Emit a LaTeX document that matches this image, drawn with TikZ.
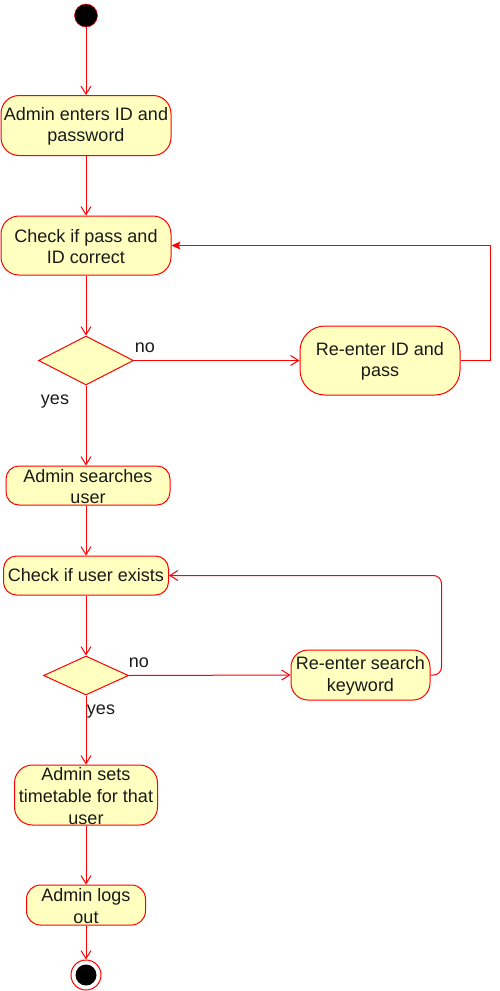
\documentclass[tikz,border=0pt]{standalone}
\usepackage{fontspec}
\setmainfont{Liberation Sans}
\usetikzlibrary{arrows.meta,shapes.geometric}
\definecolor{umlfill}{HTML}{FFFFC0}
\definecolor{umlline}{HTML}{FF0000}
\definecolor{umltext}{HTML}{1A1A1A}

\begin{document}
\begin{tikzpicture}[x=1pt,y=-1pt,
        every node/.style={font=\fontsize{18}{21.6}\selectfont, text=umltext},
        action/.style={draw=umlline, fill=umlfill, line width=1pt, rounded corners=15pt,
                       align=center, inner sep=0pt},
        choice/.style={diamond, draw=umlline, fill=umlfill, line width=1pt, inner sep=0pt,
                       aspect=1.9},
        flow/.style={draw=umlline, line width=1pt, -{Straight Barb[length=8pt,width=10pt]}},
        back/.style={draw=umlline, line width=1pt, -{Stealth[length=9pt,width=8pt,inset=2pt]}}]
    \useasboundingbox (0,0) rectangle (499,991);

    \begin{scope}
        \node (start) [circle, fill=black, draw=umlline, line width=0.5pt, minimum size=23pt, inner sep=0pt] at (86, 15.5) {};
        \node (enter) [action, minimum width=170pt, minimum height=60pt, rounded corners=18pt] at (86, 125.5) {\strut Admin enters ID and\\password};
        \node (check1) [action, minimum width=170pt, minimum height=59pt, rounded corners=18pt] at (86, 245.5) {\strut Check if pass and\\ID correct};
        \node (dec1) [choice, minimum width=95pt, minimum height=49pt] at (86, 360.5) {};
        \node (redo1) [action, minimum width=160pt, minimum height=69pt, rounded corners=25pt] at (380, 360.5) {\strut Re-enter ID and\\pass};
        \node (search) [action, minimum width=164pt, minimum height=39pt, rounded corners=13pt] at (88, 485.5) {\strut Admin searches\\user};
        \node (check2) [action, minimum width=165pt, minimum height=39pt, rounded corners=13pt] at (86, 575.5) {Check if user exists};
        \node (dec2) [choice, minimum width=85pt, minimum height=39pt, aspect=2.2] at (86, 675.5) {};
        \node (redo2) [action, minimum width=139pt, minimum height=50pt, rounded corners=17pt] at (360.5, 675) {\strut Re-enter search\\keyword};
        \node (sets) [action, minimum width=143pt, minimum height=60pt, rounded corners=18pt] at (86, 795) {\strut Admin sets\\timetable for that\\user};
        \node (logout) [action, minimum width=119pt, minimum height=40pt, rounded corners=14pt] at (86, 905) {\strut Admin logs\\out};
        \node (stop) [circle, draw=umlline, fill=white, line width=1pt, minimum size=30pt, inner sep=0pt] at (86, 975) {};
        \node (stopdot) [circle, fill=black, minimum size=21pt, inner sep=0pt] at (stop.center) {};
    \end{scope}

    \begin{scope}
        \node (no1) at (145, 348) {no};
        \node (yes1) at (55, 402) {yes};
        \node (no2) at (139, 663) {no};
        \node (yes2) at (101, 712) {yes};
    \end{scope}

    \path [flow] (start) -- (start.south |- enter.north);
    \path [flow] (enter.south) -- (enter.south |- check1.north);
    \path [flow] (check1.south) -- (check1.south |- dec1.north);
    \path [flow] (dec1.east) -- (redo1.west);
    \path [back] (redo1.east) -- ++(30,0) |- (check1.east);
    \path [flow] (dec1.south) -- (dec1.south |- search.north);
    \path [flow] (search.south -| dec1.south) -- (dec1.south |- check2.north);
    \path [flow] (check2.south -| dec2.north) -- (dec2.north);
    \path [flow] (dec2.east) -- (redo2.west);
    \path [flow, rounded corners=8pt] (redo2.east) -- ++(11,0) |- (check2.east);
    \path [flow] (dec2.south) -- (dec2.south |- sets.north);
    \path [flow] (sets.south -| dec2.south) -- (dec2.south |- logout.north);
    \path [flow] (logout.south -| dec2.south) -- (stop.north);
\end{tikzpicture}
\end{document}
